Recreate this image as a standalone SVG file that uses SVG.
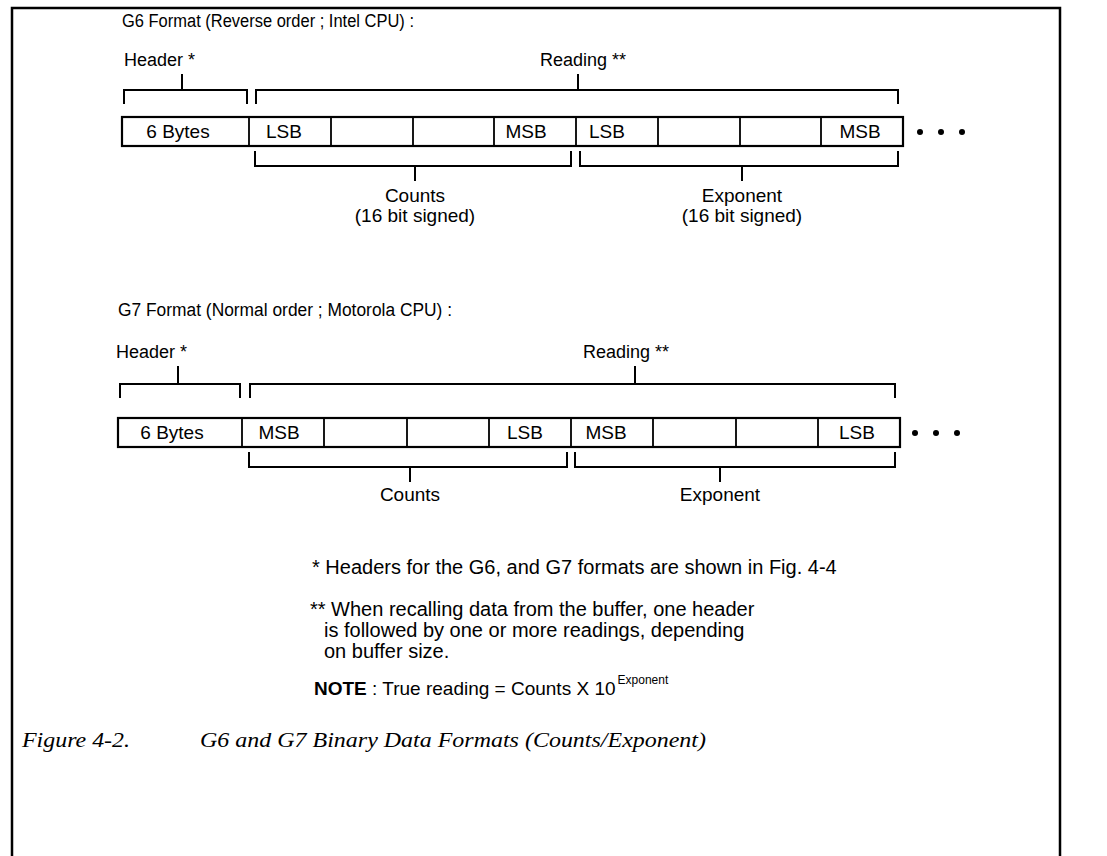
<svg xmlns="http://www.w3.org/2000/svg" width="1107" height="856" viewBox="0 0 1107 856">
<style>
text{font-family:"Liberation Sans",Arial,sans-serif;fill:#000}
.t{font-size:18px}
.l{font-size:18px}
.lm{font-size:19px;text-anchor:middle}
.c{font-size:19px;text-anchor:middle}
.f{font-size:20px}
.br{fill:none;stroke:#000;stroke-width:2}
.row{fill:#fff;stroke:#000;stroke-width:2.2}
.dv{stroke:#000;stroke-width:1.8}
.cap{font-family:"Liberation Serif","Times New Roman",serif;font-style:italic;font-size:21px}
</style>
<rect width="1107" height="856" fill="#fff"/>
<g id="frame"><path d="M12,856 V8 H1060 V856" fill="none" stroke="#000" stroke-width="2.5"/></g>

<g id="g6">
  <text class="t" x="122" y="27" textLength="292" lengthAdjust="spacingAndGlyphs">G6 Format (Reverse order ; Intel CPU) :</text>
  <g id="g6-row">
    <rect class="row" x="122" y="117" width="781" height="29"/>
    <path class="dv" d="M249,117V146M331,117V146M413,117V146M494,117V146M576,117V146M658,117V146M740,117V146M821,117V146"/>
    <text class="c" x="178" y="138">6 Bytes</text>
    <text class="c" x="284" y="138">LSB</text>
    <text class="c" x="526" y="138">MSB</text>
    <text class="c" x="607" y="138">LSB</text>
    <text class="c" x="860" y="138">MSB</text>
    <circle cx="920" cy="132" r="3"/><circle cx="941" cy="132" r="3"/><circle cx="962" cy="132" r="3"/>
  </g>
</g>
<g id="g6-header"><text class="l" x="124" y="66">Header *</text></g>
<g id="g6-reading"><text class="l" x="540" y="66">Reading **</text></g>
<g id="g6-counts"><text class="lm" x="415" y="202">Counts</text><text class="lm" x="415" y="222">(16 bit signed)</text></g>
<g id="g6-exponent"><text class="lm" x="742" y="202">Exponent</text><text class="lm" x="742" y="222">(16 bit signed)</text></g>

<g id="g7">
  <text class="t" x="118" y="316" textLength="334" lengthAdjust="spacingAndGlyphs">G7 Format (Normal order ; Motorola CPU) :</text>
  <g id="g7-row">
    <rect class="row" x="118" y="418" width="782" height="29"/>
    <path class="dv" d="M242,418V447M324,418V447M407,418V447M489,418V447M571,418V447M653,418V447M736,418V447M818,418V447"/>
    <text class="c" x="172" y="439">6 Bytes</text>
    <text class="c" x="279" y="439">MSB</text>
    <text class="c" x="525" y="439">LSB</text>
    <text class="c" x="606" y="439">MSB</text>
    <text class="c" x="857" y="439">LSB</text>
    <circle cx="915" cy="433" r="3"/><circle cx="936" cy="433" r="3"/><circle cx="957" cy="433" r="3"/>
  </g>
</g>
<g id="g7-header"><text class="l" x="116" y="358">Header *</text></g>
<g id="g7-reading"><text class="l" x="583" y="358">Reading **</text></g>
<g id="g7-counts"><text class="lm" x="410" y="501">Counts</text></g>
<g id="g7-exponent"><text class="lm" x="720" y="501">Exponent</text></g>

<g id="connectors">
  <path class="br" d="M124,104V90H247V104M182,74V90"/>
  <path class="br" d="M256,104V90H898V104M578,74V90"/>
  <path class="br" d="M255,151V166H571V151M415,166V181"/>
  <path class="br" d="M580,151V166H898V151M742,166V181"/>
  <path class="br" d="M120,398V384H240V398M178,366V384"/>
  <path class="br" d="M250,398V384H895V398M635,366V384"/>
  <path class="br" d="M249,452V467H567V452M410,467V482"/>
  <path class="br" d="M575,452V467H895V452M720,467V482"/>
</g>

<g id="notes">
  <text class="f" x="312" y="574">* Headers for the G6, and G7 formats are shown in Fig. 4-4</text>
  <text class="f" x="310" y="616">** When recalling data from the buffer, one header</text>
  <text class="f" x="324" y="637">is followed by one or more readings, depending</text>
  <text class="f" x="324" y="658">on buffer size.</text>
  <text x="314" y="695" font-size="19"><tspan font-weight="bold">NOTE</tspan> :  True reading = Counts X 10<tspan font-size="12" dx="2" dy="-11">Exponent</tspan></text>
</g>
<g id="caption">
  <text class="cap" x="22" y="747" textLength="108" lengthAdjust="spacingAndGlyphs">Figure 4-2.</text>
  <text class="cap" x="200" y="747" textLength="506" lengthAdjust="spacingAndGlyphs">G6 and G7 Binary Data Formats (Counts/Exponent)</text>
</g>
</svg>
